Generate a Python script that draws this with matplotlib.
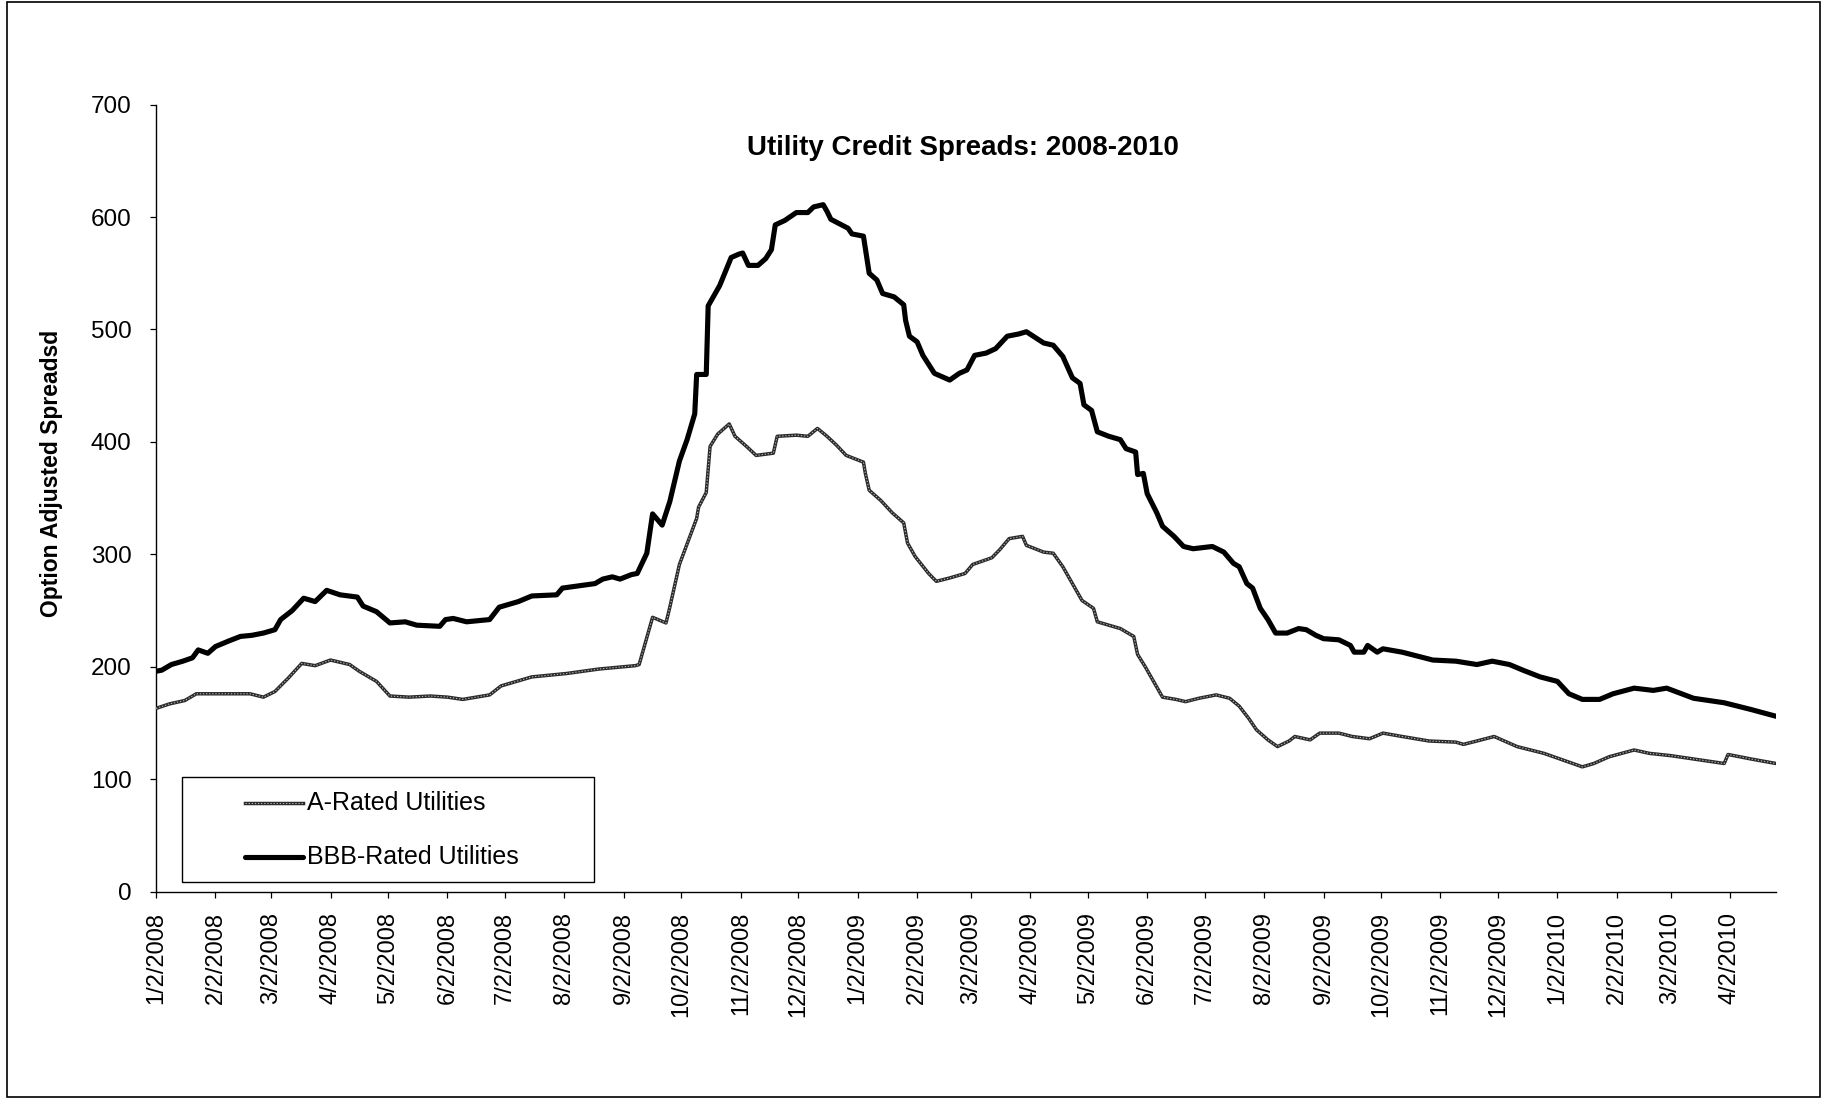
import matplotlib
matplotlib.use('Agg')
import matplotlib.pyplot as plt
from matplotlib.lines import Line2D
from matplotlib.patches import Rectangle
import pandas as pd

plt.rcParams['font.family'] = ['Liberation Sans', 'DejaVu Sans']

# option adjusted spreads (bp), BBB-rated utilities
bbb_dates = [
    '2008-01-02', '2008-01-05', '2008-01-10', '2008-01-16', '2008-01-21', '2008-01-24', '2008-01-29',
    '2008-02-02', '2008-02-09', '2008-02-15', '2008-02-21', '2008-02-27', '2008-03-04', '2008-03-07',
    '2008-03-13', '2008-03-19', '2008-03-25', '2008-03-31', '2008-04-07', '2008-04-16', '2008-04-19',
    '2008-04-26', '2008-05-03', '2008-05-11', '2008-05-17', '2008-05-29', '2008-06-01', '2008-06-05',
    '2008-06-12', '2008-06-24', '2008-06-29', '2008-07-09', '2008-07-16', '2008-07-29', '2008-08-01',
    '2008-08-18', '2008-08-22', '2008-08-27', '2008-08-31', '2008-09-06', '2008-09-09', '2008-09-14',
    '2008-09-17', '2008-09-22', '2008-09-26', '2008-10-01', '2008-10-05', '2008-10-09', '2008-10-10',
    '2008-10-15', '2008-10-16', '2008-10-22', '2008-10-28', '2008-11-01', '2008-11-03', '2008-11-06',
    '2008-11-11', '2008-11-15', '2008-11-18', '2008-11-20', '2008-11-25', '2008-12-01', '2008-12-07',
    '2008-12-10', '2008-12-15', '2008-12-17', '2008-12-19', '2008-12-28', '2008-12-30', '2009-01-05',
    '2009-01-08', '2009-01-12', '2009-01-15', '2009-01-21', '2009-01-26', '2009-01-27', '2009-01-29',
    '2009-02-02', '2009-02-05', '2009-02-11', '2009-02-15', '2009-02-19', '2009-02-24', '2009-02-28',
    '2009-03-04', '2009-03-10', '2009-03-15', '2009-03-21', '2009-03-27', '2009-03-31', '2009-04-09',
    '2009-04-14', '2009-04-19', '2009-04-24', '2009-04-28', '2009-04-30', '2009-05-04', '2009-05-07',
    '2009-05-13', '2009-05-19', '2009-05-22', '2009-05-27', '2009-05-28', '2009-05-31', '2009-06-02',
    '2009-06-07', '2009-06-10', '2009-06-16', '2009-06-21', '2009-06-26', '2009-07-06', '2009-07-12',
    '2009-07-17', '2009-07-20', '2009-07-24', '2009-07-27', '2009-07-31', '2009-08-04', '2009-08-08',
    '2009-08-14', '2009-08-20', '2009-08-24', '2009-08-29', '2009-09-02', '2009-09-10', '2009-09-16',
    '2009-09-18', '2009-09-23', '2009-09-25', '2009-09-30', '2009-10-03', '2009-10-13', '2009-10-29',
    '2009-11-10', '2009-11-21', '2009-11-29', '2009-12-08', '2009-12-15', '2009-12-24', '2010-01-02',
    '2010-01-08', '2010-01-15', '2010-01-24', '2010-01-31', '2010-02-11', '2010-02-21', '2010-02-28',
    '2010-03-14', '2010-03-30', '2010-04-13', '2010-04-26',
]
bbb_values = [
    196, 197, 202, 205, 208, 215, 212,
    218, 223, 227, 228, 230, 233, 242,
    250, 261, 258, 268, 264, 262, 254,
    249, 239, 240, 237, 236, 242, 243,
    240, 242, 253, 258, 263, 264, 270,
    274, 278, 280, 278, 282, 283, 301,
    336, 326, 347, 383, 402, 425, 460,
    460, 521, 539, 564, 567, 568, 557,
    557, 563, 571, 593, 597, 604, 604,
    609, 611, 605, 598, 590, 585, 583,
    550, 544, 532, 529, 522, 508, 494,
    489, 477, 461, 458, 455, 461, 464,
    477, 479, 483, 494, 496, 498, 488,
    486, 476, 457, 452, 433, 428, 409,
    405, 402, 394, 391, 371, 372, 354,
    337, 325, 316, 307, 305, 307, 302,
    292, 289, 274, 270, 252, 242, 230,
    230, 234, 233, 228, 225, 224, 219,
    213, 213, 219, 213, 216, 213, 206,
    205, 202, 205, 202, 197, 191, 187,
    176, 171, 171, 176, 181, 179, 181,
    172, 168, 162, 156,
]

# option adjusted spreads (bp), A-rated utilities
a_dates = [
    '2008-01-02', '2008-01-09', '2008-01-17', '2008-01-23', '2008-02-02', '2008-02-13', '2008-02-20',
    '2008-02-27', '2008-03-04', '2008-03-11', '2008-03-18', '2008-03-25', '2008-04-02', '2008-04-12',
    '2008-04-17', '2008-04-26', '2008-05-03', '2008-05-13', '2008-05-24', '2008-06-02', '2008-06-10',
    '2008-06-24', '2008-06-30', '2008-07-16', '2008-08-03', '2008-08-20', '2008-09-08', '2008-09-10',
    '2008-09-17', '2008-09-24', '2008-09-26', '2008-10-01', '2008-10-10', '2008-10-11', '2008-10-15',
    '2008-10-17', '2008-10-21', '2008-10-27', '2008-10-30', '2008-11-05', '2008-11-10', '2008-11-19',
    '2008-11-21', '2008-12-01', '2008-12-07', '2008-12-12', '2008-12-17', '2008-12-22', '2008-12-27',
    '2009-01-05', '2009-01-06', '2009-01-08', '2009-01-14', '2009-01-20', '2009-01-26', '2009-01-28',
    '2009-02-01', '2009-02-08', '2009-02-12', '2009-02-19', '2009-02-27', '2009-03-03', '2009-03-13',
    '2009-03-17', '2009-03-22', '2009-03-29', '2009-03-31', '2009-04-09', '2009-04-14', '2009-04-19',
    '2009-04-24', '2009-04-29', '2009-05-05', '2009-05-07', '2009-05-13', '2009-05-19', '2009-05-26',
    '2009-05-28', '2009-06-01', '2009-06-06', '2009-06-10', '2009-06-17', '2009-06-22', '2009-06-29',
    '2009-07-08', '2009-07-15', '2009-07-20', '2009-07-25', '2009-07-29', '2009-08-04', '2009-08-09',
    '2009-08-15', '2009-08-18', '2009-08-26', '2009-08-31', '2009-09-10', '2009-09-17', '2009-09-26',
    '2009-10-03', '2009-10-13', '2009-10-27', '2009-11-10', '2009-11-14', '2009-11-21', '2009-11-30',
    '2009-12-12', '2009-12-26', '2010-01-05', '2010-01-15', '2010-01-21', '2010-01-29', '2010-02-11',
    '2010-02-19', '2010-03-02', '2010-03-14', '2010-03-30', '2010-04-01', '2010-04-13', '2010-04-26',
]
a_values = [
    163, 167, 170, 176, 176, 176, 176,
    173, 178, 190, 203, 201, 206, 202,
    196, 187, 174, 173, 174, 173, 171,
    175, 183, 191, 194, 198, 201, 202,
    244, 239, 253, 291, 332, 342, 355,
    396, 407, 416, 405, 396, 388, 390,
    405, 406, 405, 412, 405, 397, 388,
    382, 372, 357, 348, 337, 328, 310,
    298, 283, 276, 279, 283, 291, 297,
    304, 314, 316, 308, 302, 301, 289,
    274, 259, 252, 240, 237, 234, 227,
    211, 200, 185, 173, 171, 169, 172,
    175, 172, 165, 154, 144, 135, 129,
    134, 138, 135, 141, 141, 138, 136,
    141, 138, 134, 133, 131, 134, 138,
    129, 123, 117, 111, 114, 120, 126,
    123, 121, 118, 114, 122, 118, 114,
]

series_labels = ['A-Rated Utilities', 'BBB-Rated Utilities']
y_ticks = [0, 100, 200, 300, 400, 500, 600, 700]
x_start, x_end = '2008-01-02', '2010-04-26'
tick_dates = pd.date_range('2008-01-01', '2010-04-01', freq='MS') + pd.Timedelta(days=1)

fig = plt.figure(figsize=(18.23, 11.0), dpi=100)
ax = fig.add_axes([0.0856, 0.1894, 0.8886, 0.7155])

a_x = pd.to_datetime(a_dates)
bbb_x = pd.to_datetime(bbb_dates)

# A-rated: dark outlined grey line, BBB: heavy black line
ax.plot(a_x, a_values, color='#2a2a2a', lw=2.5, solid_joinstyle='round', zorder=3)
ax.plot(a_x, a_values, color='#b5b5b5', lw=0.8, linestyle=(0, (1.2, 1.6)), zorder=3)
ax.plot(bbb_x, bbb_values, color='black', lw=3.7, solid_joinstyle='round',
        solid_capstyle='round', zorder=4)

ax.set_xlim(pd.Timestamp(x_start), pd.Timestamp(x_end))
ax.set_ylim(0, 700)
ax.set_yticks(y_ticks)
ax.set_xticks(tick_dates)
ax.set_xticklabels([f'{d.month}/{d.day}/{d.year}' for d in tick_dates], rotation=90)

for side in ['top', 'right']:
    ax.spines[side].set_visible(False)
for side in ['left', 'bottom']:
    ax.spines[side].set_linewidth(1.0)
ax.tick_params(axis='both', direction='out', length=4.5, width=0.9)
ax.tick_params(axis='y', pad=13, labelsize=17.5)
ax.tick_params(axis='x', pad=10, labelsize=17)

ax.text(0.498, 0.945, 'Utility Credit Spreads: 2008-2010', transform=ax.transAxes,
        ha='center', va='center', fontsize=20, fontweight='bold')
fig.text(0.0285, 0.570, 'Option Adjusted Spreadsd', rotation=90, ha='center', va='center',
         fontsize=16.5, fontweight='bold')

# legend box drawn by hand so the padding matches the boxed layout
ax.add_patch(Rectangle((0.0159, 0.0119), 0.2547, 0.1334, transform=ax.transAxes,
                       facecolor='white', edgecolor='black', lw=1.0, zorder=5))
rows_y = [0.1123, 0.0445]
ax.add_line(Line2D([0.0549, 0.0909], [rows_y[0]] * 2, transform=ax.transAxes,
                   color='#2a2a2a', lw=2.5, zorder=6))
ax.add_line(Line2D([0.0549, 0.0909], [rows_y[0]] * 2, transform=ax.transAxes,
                   color='#b5b5b5', lw=0.8, linestyle=(0, (1.2, 1.6)), zorder=6))
ax.add_line(Line2D([0.0549, 0.0909], [rows_y[1]] * 2, transform=ax.transAxes,
                   color='black', lw=3.7, solid_capstyle='round', zorder=6))
for label, ry in zip(series_labels, rows_y):
    ax.text(0.0934, ry, label, transform=ax.transAxes, ha='left', va='center',
            fontsize=18, zorder=7)

fig.patches.append(Rectangle((0.0038, 0.0027), 0.9946, 0.9953, transform=fig.transFigure,
                             fill=False, edgecolor='black', lw=1.2))

fig.savefig('out.png', dpi=100)
